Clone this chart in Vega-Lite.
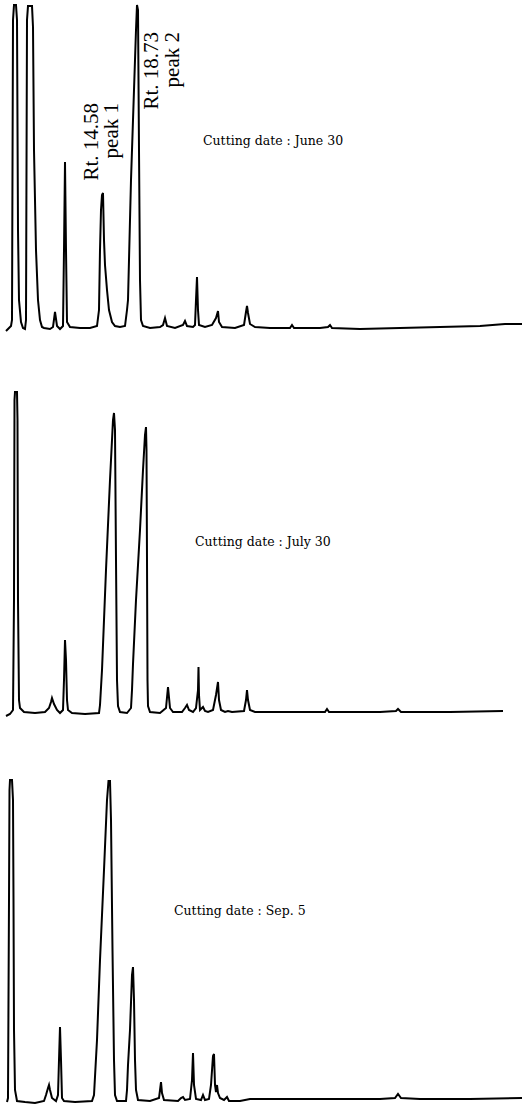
{
  "$schema": "https://vega.github.io/schema/vega-lite/v6.json",
  "padding": 0,
  "spacing": 0,
  "background": "white",
  "config": {"view": {"stroke": null}, "concat": {"spacing": 0}},
  "datasets": {
    "p1": [
      {"t":6,"signal":-4},{"t":8,"signal":-2},{"t":11,"signal":1},{"t":12,"signal":7},{"t":13,"signal":307},{"t":14,"signal":322},{"t":16,"signal":322},{"t":17,"signal":307},{"t":18,"signal":97},{"t":19,"signal":27},{"t":21,"signal":5},{"t":23,"signal":-1},{"t":25,"signal":-2},{"t":26,"signal":7},{"t":27,"signal":307},{"t":28,"signal":321},{"t":32,"signal":321},{"t":33,"signal":300},{"t":34,"signal":177},{"t":36,"signal":77},{"t":38,"signal":27},{"t":40,"signal":7},{"t":42,"signal":0},{"t":44,"signal":-1},{"t":50,"signal":-2},{"t":53,"signal":0},{"t":55,"signal":15},{"t":57,"signal":1},{"t":60,"signal":-2},{"t":63,"signal":1},{"t":64,"signal":77},{"t":65,"signal":165},{"t":66,"signal":77},{"t":67,"signal":5},{"t":70,"signal":0},{"t":80,"signal":-1},{"t":90,"signal":-1},{"t":97,"signal":1},{"t":99,"signal":17},{"t":100,"signal":77},{"t":101,"signal":117},{"t":102,"signal":132},{"t":103,"signal":134},{"t":104,"signal":87},{"t":105,"signal":62},{"t":107,"signal":37},{"t":109,"signal":17},{"t":112,"signal":5},{"t":115,"signal":1},{"t":120,"signal":0},{"t":125,"signal":1},{"t":127,"signal":17},{"t":128,"signal":27},{"t":129,"signal":67},{"t":131,"signal":147},{"t":134,"signal":237},{"t":136,"signal":297},{"t":137,"signal":322},{"t":138,"signal":317},{"t":139,"signal":177},{"t":140,"signal":47},{"t":141,"signal":7},{"t":143,"signal":1},{"t":150,"signal":-1},{"t":160,"signal":0},{"t":163,"signal":2},{"t":165,"signal":9},{"t":167,"signal":1},{"t":175,"signal":-1},{"t":183,"signal":2},{"t":185,"signal":6},{"t":187,"signal":1},{"t":193,"signal":0},{"t":195,"signal":2},{"t":196,"signal":27},{"t":197,"signal":50},{"t":198,"signal":17},{"t":199,"signal":2},{"t":205,"signal":0},{"t":212,"signal":2},{"t":216,"signal":9},{"t":218,"signal":16},{"t":219,"signal":5},{"t":222,"signal":0},{"t":235,"signal":-1},{"t":244,"signal":2},{"t":246,"signal":15},{"t":247,"signal":21},{"t":248,"signal":14},{"t":250,"signal":3},{"t":255,"signal":0},{"t":270,"signal":-1},{"t":290,"signal":-1},{"t":292,"signal":2},{"t":294,"signal":-1},{"t":320,"signal":-1},{"t":328,"signal":0},{"t":330,"signal":2},{"t":332,"signal":-1},{"t":360,"signal":-2},{"t":400,"signal":-1},{"t":440,"signal":0},{"t":480,"signal":1},{"t":505,"signal":3},{"t":522,"signal":3}
    ],
    "p2": [
      {"t":6,"signal":-4},{"t":10,"signal":-2},{"t":13,"signal":2},{"t":14,"signal":112},{"t":14.5,"signal":312},{"t":15,"signal":320},{"t":17,"signal":320},{"t":17.5,"signal":292},{"t":18,"signal":112},{"t":19,"signal":12},{"t":20,"signal":4},{"t":24,"signal":0},{"t":35,"signal":-1},{"t":45,"signal":0},{"t":49,"signal":4},{"t":51,"signal":10},{"t":52,"signal":14},{"t":54,"signal":8},{"t":57,"signal":2},{"t":60,"signal":-1},{"t":63,"signal":2},{"t":64,"signal":32},{"t":65,"signal":72},{"t":66,"signal":52},{"t":67,"signal":12},{"t":68,"signal":2},{"t":72,"signal":-1},{"t":85,"signal":-2},{"t":99,"signal":-1},{"t":100,"signal":7},{"t":102,"signal":42},{"t":106,"signal":142},{"t":110,"signal":232},{"t":113,"signal":292},{"t":114,"signal":299},{"t":115,"signal":282},{"t":116,"signal":152},{"t":117,"signal":32},{"t":118,"signal":6},{"t":120,"signal":0},{"t":127,"signal":-1},{"t":131,"signal":4},{"t":132,"signal":22},{"t":133,"signal":48},{"t":136,"signal":112},{"t":140,"signal":182},{"t":143,"signal":242},{"t":145,"signal":277},{"t":146,"signal":285},{"t":146.5,"signal":262},{"t":147,"signal":152},{"t":147.5,"signal":32},{"t":148,"signal":6},{"t":150,"signal":0},{"t":160,"signal":-1},{"t":166,"signal":4},{"t":168,"signal":25},{"t":170,"signal":4},{"t":173,"signal":0},{"t":182,"signal":0},{"t":185,"signal":4},{"t":187,"signal":7},{"t":189,"signal":2},{"t":193,"signal":0},{"t":196,"signal":4},{"t":198,"signal":22},{"t":198.5,"signal":45},{"t":199,"signal":17},{"t":200,"signal":2},{"t":203,"signal":5},{"t":205,"signal":1},{"t":208,"signal":0},{"t":213,"signal":2},{"t":216,"signal":17},{"t":218,"signal":30},{"t":219,"signal":12},{"t":221,"signal":2},{"t":225,"signal":0},{"t":228,"signal":1},{"t":232,"signal":0},{"t":244,"signal":1},{"t":246,"signal":12},{"t":247,"signal":22},{"t":248,"signal":12},{"t":250,"signal":2},{"t":255,"signal":0},{"t":290,"signal":0},{"t":325,"signal":0},{"t":327,"signal":3},{"t":329,"signal":0},{"t":380,"signal":0},{"t":396,"signal":1},{"t":398,"signal":3},{"t":401,"signal":0},{"t":450,"signal":0},{"t":503,"signal":1}
    ],
    "p3": [
      {"t":7,"signal":-2},{"t":8,"signal":2},{"t":9,"signal":200},{"t":9.5,"signal":310},{"t":10,"signal":320},{"t":12,"signal":320},{"t":13,"signal":300},{"t":13.5,"signal":200},{"t":14,"signal":70},{"t":15,"signal":10},{"t":17,"signal":-1},{"t":25,"signal":-2},{"t":35,"signal":-3},{"t":44,"signal":-1},{"t":46,"signal":5},{"t":48,"signal":12},{"t":49,"signal":15},{"t":50,"signal":10},{"t":52,"signal":2},{"t":56,"signal":-1},{"t":58,"signal":5},{"t":59,"signal":40},{"t":60,"signal":73},{"t":61,"signal":40},{"t":62,"signal":2},{"t":64,"signal":-1},{"t":75,"signal":-2},{"t":92,"signal":-1},{"t":94,"signal":5},{"t":97,"signal":60},{"t":100,"signal":140},{"t":104,"signal":230},{"t":107,"signal":300},{"t":108.5,"signal":319},{"t":110,"signal":319},{"t":111,"signal":280},{"t":112.5,"signal":150},{"t":114,"signal":40},{"t":115,"signal":5},{"t":117,"signal":-1},{"t":126,"signal":-1},{"t":127,"signal":10},{"t":128,"signal":35},{"t":130,"signal":70},{"t":132,"signal":125},{"t":133,"signal":133},{"t":134,"signal":100},{"t":135,"signal":40},{"t":136,"signal":10},{"t":138,"signal":0},{"t":150,"signal":-1},{"t":159,"signal":2},{"t":160,"signal":10},{"t":161,"signal":18},{"t":162,"signal":7},{"t":164,"signal":0},{"t":178,"signal":-1},{"t":181,"signal":2},{"t":183,"signal":3},{"t":185,"signal":0},{"t":190,"signal":1},{"t":192,"signal":20},{"t":193,"signal":47},{"t":194,"signal":15},{"t":196,"signal":1},{"t":201,"signal":0},{"t":203,"signal":5},{"t":205,"signal":0},{"t":209,"signal":1},{"t":211,"signal":15},{"t":213,"signal":44},{"t":214,"signal":46},{"t":215,"signal":15},{"t":216,"signal":8},{"t":217,"signal":15},{"t":218,"signal":7},{"t":220,"signal":2},{"t":224,"signal":0},{"t":227,"signal":3},{"t":229,"signal":-1},{"t":240,"signal":-1},{"t":250,"signal":1},{"t":290,"signal":1},{"t":330,"signal":1},{"t":380,"signal":1},{"t":395,"signal":2},{"t":398,"signal":6},{"t":401,"signal":2},{"t":420,"signal":1},{"t":470,"signal":1},{"t":522,"signal":2}
    ],
    "peaklabels": [
      {"t":98,"signal":224,"label":"Rt. 14.58"},
      {"t":118,"signal":224,"label":"peak 1"},
      {"t":158,"signal":295,"label":"Rt. 18.73"},
      {"t":179,"signal":295,"label":"peak 2"}
    ],
    "titles": [
      {"panel":1,"t":203,"signal":182,"label":"Cutting date : June 30"},
      {"panel":2,"t":195,"signal":166,"label":"Cutting date : July 30"},
      {"panel":3,"t":174,"signal":185,"label":"Cutting date : Sep. 5"}
    ]
  },
  "vconcat": [
    {
      "width": 523,
      "height": 368,
      "layer": [
        {
          "data": {"name": "p1"},
          "mark": {"type": "line", "color": "black", "strokeWidth": 2, "clip": true},
          "encoding": {
            "x": {"field": "t", "type": "quantitative", "scale": {"domain": [0, 523]}, "axis": null},
            "y": {"field": "signal", "type": "quantitative", "scale": {"domain": [-41, 327]}, "axis": null}
          }
        },
        {
          "data": {"name": "peaklabels"},
          "mark": {"type": "text", "angle": 270, "align": "right", "baseline": "alphabetic", "font": "Liberation Serif", "fontSize": 21, "color": "black"},
          "encoding": {
            "x": {"field": "t", "type": "quantitative", "scale": {"domain": [0, 523]}, "axis": null},
            "y": {"field": "signal", "type": "quantitative", "scale": {"domain": [-41, 327]}, "axis": null},
            "text": {"field": "label"}
          }
        },
        {
          "data": {"name": "titles"},
          "transform": [{"filter": "datum.panel === 1"}],
          "mark": {"type": "text", "align": "left", "baseline": "alphabetic", "font": "DejaVu Serif", "fontSize": 12.5, "color": "black"},
          "encoding": {
            "x": {"field": "t", "type": "quantitative", "scale": {"domain": [0, 523]}, "axis": null},
            "y": {"field": "signal", "type": "quantitative", "scale": {"domain": [-41, 327]}, "axis": null},
            "text": {"field": "label"}
          }
        }
      ]
    },
    {
      "width": 523,
      "height": 368,
      "layer": [
        {
          "data": {"name": "p2"},
          "mark": {"type": "line", "color": "black", "strokeWidth": 2, "clip": true},
          "encoding": {
            "x": {"field": "t", "type": "quantitative", "scale": {"domain": [0, 523]}, "axis": null},
            "y": {"field": "signal", "type": "quantitative", "scale": {"domain": [-24, 344]}, "axis": null}
          }
        },
        {
          "data": {"name": "titles"},
          "transform": [{"filter": "datum.panel === 2"}],
          "mark": {"type": "text", "align": "left", "baseline": "alphabetic", "font": "DejaVu Serif", "fontSize": 12.5, "color": "black"},
          "encoding": {
            "x": {"field": "t", "type": "quantitative", "scale": {"domain": [0, 523]}, "axis": null},
            "y": {"field": "signal", "type": "quantitative", "scale": {"domain": [-24, 344]}, "axis": null},
            "text": {"field": "label"}
          }
        }
      ]
    },
    {
      "width": 523,
      "height": 368,
      "layer": [
        {
          "data": {"name": "p3"},
          "mark": {"type": "line", "color": "black", "strokeWidth": 2, "clip": true},
          "encoding": {
            "x": {"field": "t", "type": "quantitative", "scale": {"domain": [0, 523]}, "axis": null},
            "y": {"field": "signal", "type": "quantitative", "scale": {"domain": [-4, 364]}, "axis": null}
          }
        },
        {
          "data": {"name": "titles"},
          "transform": [{"filter": "datum.panel === 3"}],
          "mark": {"type": "text", "align": "left", "baseline": "alphabetic", "font": "DejaVu Serif", "fontSize": 12.5, "color": "black"},
          "encoding": {
            "x": {"field": "t", "type": "quantitative", "scale": {"domain": [0, 523]}, "axis": null},
            "y": {"field": "signal", "type": "quantitative", "scale": {"domain": [-4, 364]}, "axis": null},
            "text": {"field": "label"}
          }
        }
      ]
    }
  ]
}
